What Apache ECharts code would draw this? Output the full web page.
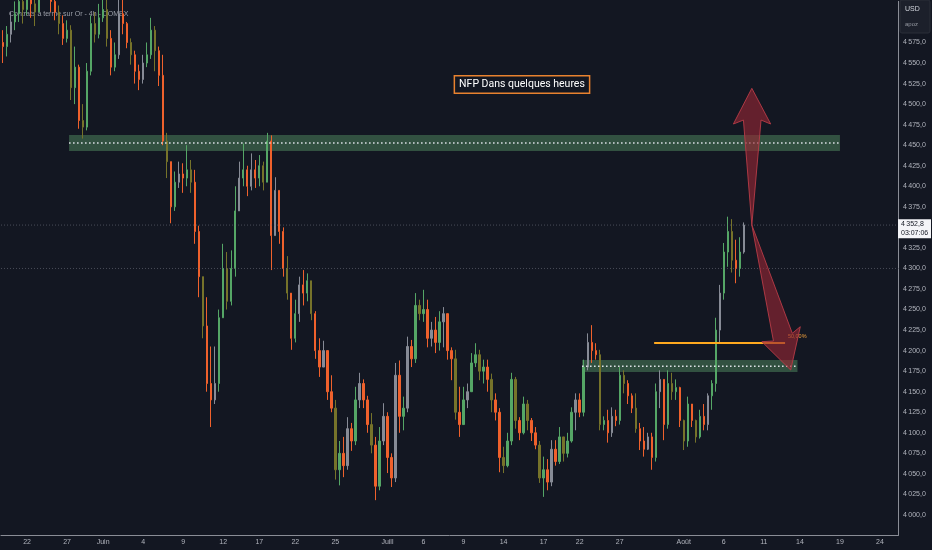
<!DOCTYPE html>
<html><head><meta charset="utf-8">
<script src="https://cdn.jsdelivr.net/npm/echarts@6/dist/echarts.min.js"></script>
<style>html,body{margin:0;padding:0;background:#131722}#c{width:932px;height:550px}</style>
</head><body><div id="c"></div><script>
// ---- data (4h candles, open = previous close) ----
const firstOpen = 4575;
const closes = [
4570,4585,4600,4610,4625,4615,4630,4622,4612,4635,
4645,4640,4625,4612,4598,4580,4590,4520,4545,4480,
4472,4540,4598,4585,4605,4615,4580,4545,4560,4610,
4598,4575,4560,4540,4530,4550,4560,4590,4565,4535,
4455,4430,4375,4405,4415,4410,4420,4405,4345,4290,
4230,4160,4140,4160,4240,4300,4260,4300,4370,4410,
4420,4400,4420,4410,4425,4405,4455,4340,4395,4345,
4300,4270,4215,4245,4280,4270,4285,4245,4200,4180,
4200,4150,4130,4055,4075,4060,4105,4090,4140,4160,
4140,4110,4085,4035,4090,4120,4070,4045,4170,4120,
4130,4205,4190,4255,4245,4250,4215,4225,4210,4235,
4245,4200,4190,4125,4110,4140,4150,4185,4195,4175,
4180,4165,4140,4125,4070,4060,4090,4165,4115,4100,
4135,4115,4100,4085,4045,4055,4040,4080,4065,4095,
4075,4090,4125,4140,4125,4180,4210,4200,4195,4110,
4115,4100,4120,4115,4170,4160,4145,4130,4105,4090,
4080,4095,4070,4150,4165,4110,4160,4150,4155,4115,
4090,4135,4115,4095,4120,4110,4145,4160,4225,4270,
4320,4345,4310,4300,4320,4352.8];
const highs = [
4590,4595,4612,4625,4640,4635,4642,4638,4630,4648,
4660,4655,4645,4632,4620,4608,4602,4596,4570,4548,
4500,4550,4608,4612,4622,4640,4628,4590,4575,4630,
4628,4600,4580,4565,4548,4560,4575,4605,4595,4570,
4560,4465,4430,4418,4430,4428,4450,4432,4420,4352,
4290,4265,4205,4205,4250,4330,4320,4322,4400,4430,
4452,4425,4440,4432,4438,4430,4465,4462,4411,4392,
4350,4315,4270,4262,4290,4298,4294,4285,4248,4215,
4212,4200,4170,4140,4090,4095,4119,4112,4156,4173,
4165,4145,4124,4095,4107,4136,4125,4075,4185,4188,
4144,4217,4213,4270,4262,4274,4262,4235,4241,4248,
4253,4235,4204,4201,4156,4156,4160,4197,4209,4201,
4189,4189,4172,4148,4130,4083,4100,4173,4168,4119,
4144,4140,4118,4107,4090,4071,4068,4091,4091,4107,
4095,4100,4131,4148,4148,4189,4221,4231,4209,4201,
4120,4128,4131,4128,4180,4176,4164,4148,4148,4112,
4107,4100,4100,4160,4176,4160,4176,4173,4165,4156,
4116,4144,4128,4116,4128,4135,4148,4164,4240,4280,
4331,4363,4360,4335,4338,4356];
const lows = [
4550,4558,4575,4590,4600,4598,4608,4605,4595,4615,
4630,4628,4612,4602,4585,4572,4575,4505,4500,4470,
4458,4468,4535,4575,4580,4600,4570,4535,4540,4555,
4585,4568,4548,4525,4517,4525,4545,4555,4540,4522,
4450,4410,4355,4370,4398,4392,4400,4392,4330,4265,
4215,4150,4107,4135,4150,4250,4250,4255,4290,4380,
4400,4388,4395,4398,4400,4395,4415,4298,4340,4330,
4290,4262,4201,4210,4235,4255,4260,4237,4190,4168,
4180,4140,4125,4043,4036,4046,4055,4078,4085,4130,
4130,4100,4075,4018,4030,4085,4051,4034,4040,4100,
4103,4125,4180,4185,4237,4235,4204,4205,4197,4200,
4204,4189,4164,4116,4095,4124,4130,4152,4180,4164,
4160,4150,4125,4115,4052,4051,4058,4085,4105,4091,
4098,4103,4090,4080,4039,4022,4030,4035,4060,4062,
4065,4070,4088,4103,4119,4120,4176,4185,4189,4103,
4103,4088,4095,4108,4110,4148,4135,4124,4100,4079,
4071,4079,4055,4065,4130,4091,4105,4140,4140,4107,
4079,4083,4107,4088,4093,4103,4103,4128,4150,4209,
4262,4302,4295,4282,4290,4318];
const totalSlots = 224;
const tickIndex = [6,16,25,35,45,55,64,73,83,96,105,115,125,135,144,154,170,180,190,199,209,219];
const tickText = ['22','27','Juin','4','9','12','17','22','25','Juill','6','9','14','17','22','27','Août','6','11','14','19','24'];
const lastPrice = 4352.8;
const lastTime = '03:07:06';
const refLevel = 4300;
// annotations in (slot index, price)
const upperZone = [16.5, 209.0, 4443, 4462.4, 4452.7];
const lowerZone = [144.6, 198.4, 4174, 4188.6, 4181];
const fibLine = [162.6, 195.3, 4209.3];
const fibLabelPos = [196.0, 4217];
const fibLabel = '50,00%';
const noteText = 'NFP Dans quelques heures';
const notePos = [129.6, 4523.8];
const upArrow = [[187.0,4352.9],[189.3,4480.6],[191.7,4475.8],[187.0,4519.2],[182.4,4475.8],[184.9,4480.6]];
const downArrow = [[187.0,4352.9],[192.4,4211.7],[189.5,4210.9],[196.7,4176.4],[199.1,4229.1],[197.1,4221.1]];
const titleText = 'Contrats à terme sur Or - 4h - COMEX';

// ---- build ----
const fmt = (v, d) => {
  const s = v.toFixed(d).replace('.', ',');
  return s.replace(/^(\d)(\d{3})/, '$1\u2009$2');
};
const labels = new Array(totalSlots).fill('');
tickIndex.forEach((ix, k) => { labels[ix] = tickText[k]; });
const candles = closes.map((c, i) => {
  const o = i === 0 ? firstOpen : closes[i - 1];
  const h = Math.max(highs[i], o, c), l = Math.min(lows[i], o, c);
  const up = c >= o, alt = i % 3 === 2;
  const col = up ? (alt ? '#878b96' : '#55a666') : (alt ? '#76732a' : '#ef612c');
  return { value: [o, c, l, h], itemStyle: { color: col, color0: col, borderColor: col, borderColor0: col } };
});

const chart = echarts.init(document.getElementById('c'), null, { renderer: 'canvas' });
const axisCol = '#b2b5be';
chart.setOption({
  animation: false,
  backgroundColor: '#131722',
  textStyle: { fontFamily: 'Liberation Sans, Arial, sans-serif' },
  title: { text: titleText, left: 4, top: 6, z: 0,
    textStyle: { color: 'rgba(178,181,190,0.85)', fontSize: 7, fontWeight: 'normal' } },
  grid: { left: 0, right: 34, top: 1.4, bottom: 14.5 },
  xAxis: [
    { type: 'category', data: labels, boundaryGap: true,
      axisLine: { onZero: false, lineStyle: { color: '#8a8d96', width: 1 } }, axisTick: { show: false },
      splitLine: { show: false },
      axisLabel: { interval: 0, color: axisCol, fontSize: 7, margin: 3 } },
    { type: 'value', min: -0.5, max: totalSlots - 0.5, show: false,
      axisLine: { onZero: false } }
  ],
  yAxis: { type: 'value', position: 'right', min: 3975, max: 4625, interval: 25,
    axisLine: { show: true, onZero: false, lineStyle: { color: '#8a8d96', width: 1 } }, axisTick: { show: false },
    splitLine: { show: false },
    axisLabel: { color: axisCol, fontSize: 7, margin: 5,
      formatter: v => (v < 4000 || v > 4575) ? '' : fmt(v, 1) } },
  graphic: [
    { type: 'rect', z: 20, silent: true, shape: { x: 900, y: 0, width: 30, height: 33, r: 2 },
      style: { fill: '#1c202b', stroke: '#2a2e39', lineWidth: 1 } },
    { type: 'text', z: 21, silent: true, x: 905, y: 6, style: { text: 'USD', fill: '#d1d4dc', fontSize: 7, fontFamily: 'Liberation Sans' } },
    { type: 'text', z: 21, silent: true, x: 905, y: 21, style: { text: 'apoz', fill: '#9598a1', fontSize: 6, fontFamily: 'Liberation Sans' } }
  ],
  series: [
    { type: 'candlestick', xAxisIndex: 0, yAxisIndex: 0, data: candles, barWidth: 1.8, z: 2, clip: true,
      silent: true, emphasis: { disabled: true }, itemStyle: { borderWidth: 1 } },
    { type: 'custom', xAxisIndex: 1, yAxisIndex: 0, z: 1, clip: false, data: [[0, 4300]],
      silent: true, emphasis: { disabled: true },
      renderItem: (params, api) => {
        const rect = (z) => {
          const a = api.coord([z[0], z[3]]), b = api.coord([z[1], z[2]]);
          return { type: 'rect', shape: { x: a[0], y: a[1], width: b[0] - a[0], height: b[1] - a[1] },
            style: { fill: 'rgba(70,118,84,0.62)' } };
        };
        return { type: 'group', children: [rect(upperZone), rect(lowerZone)] };
      } },
    { type: 'custom', xAxisIndex: 1, yAxisIndex: 0, z: 5, clip: false, data: [[0, 4300]],
      silent: true, emphasis: { disabled: true },
      renderItem: (params, api) => {
        const c = (ix, p) => api.coord([ix, p]);
        const hline = (x1, x2, p, style) => {
          const a = c(x1, p), b = c(x2, p);
          return { type: 'line', shape: { x1: a[0], y1: a[1], x2: b[0], y2: b[1] }, style };
        };
        const dim = { stroke: 'rgba(120,124,136,0.55)', lineWidth: 1, lineDash: [1, 2] };
        const dots = { stroke: '#e3e6ec', lineWidth: 1.5, lineDash: [1.5, 2.5] };
        const poly = (pts) => ({ type: 'polygon', shape: { points: pts.map(p => c(p[0], p[1])) },
          style: { fill: 'rgba(150,38,52,0.62)', stroke: 'rgba(178,58,70,0.95)', lineWidth: 1 } });
        const edge = c(totalSlots - 0.5, lastPrice);
        const np = c(notePos[0], notePos[1]);
        const fl = c(fibLabelPos[0], fibLabelPos[1]);
        const fy = Math.round(c(0, fibLine[2])[1]);
        const fa = c(fibLine[0], fibLine[2]), fb = c(fibLine[1], fibLine[2]);
        return { type: 'group', children: [
          hline(-0.5, totalSlots - 0.5, lastPrice, dim),
          hline(-0.5, totalSlots - 0.5, refLevel, dim),
          hline(upperZone[0], upperZone[1], upperZone[4], dots),
          hline(lowerZone[0], lowerZone[1], lowerZone[4], dots),
          { type: 'line', shape: { x1: fa[0], y1: fy, x2: fb[0], y2: fy },
            style: { stroke: '#ffa91f', lineWidth: 2 } },
          { type: 'text', x: fl[0], y: fl[1], style: { text: fibLabel, fill: '#f0a03a', fontSize: 5.5,
            fontFamily: 'Liberation Sans', align: 'left', verticalAlign: 'middle' } },
          poly(upArrow),
          poly(downArrow),
          { type: 'text', x: np[0], y: np[1], style: { text: noteText, fill: '#ffffff', fontSize: 10.5,
            fontFamily: 'Roboto', align: 'center', verticalAlign: 'middle',
            backgroundColor: '#131722', borderColor: '#e8822f', borderWidth: 1.5, padding: [3, 4, 2, 4] } },
          { type: 'rect', shape: { x: edge[0], y: edge[1] - 5.7, width: 33, height: 19 },
            style: { fill: '#f4f5f8' } },
          { type: 'text', x: edge[0] + 3, y: edge[1] - 1, style: { text: fmt(lastPrice, 1), fill: '#131722',
            fontSize: 7, fontFamily: 'Liberation Sans', align: 'left', verticalAlign: 'middle' } },
          { type: 'text', x: edge[0] + 3, y: edge[1] + 8.3, style: { text: lastTime, fill: '#131722',
            fontSize: 7, fontFamily: 'Liberation Sans', align: 'left', verticalAlign: 'middle' } }
        ] };
      } }
  ]
});
</script></body></html>
